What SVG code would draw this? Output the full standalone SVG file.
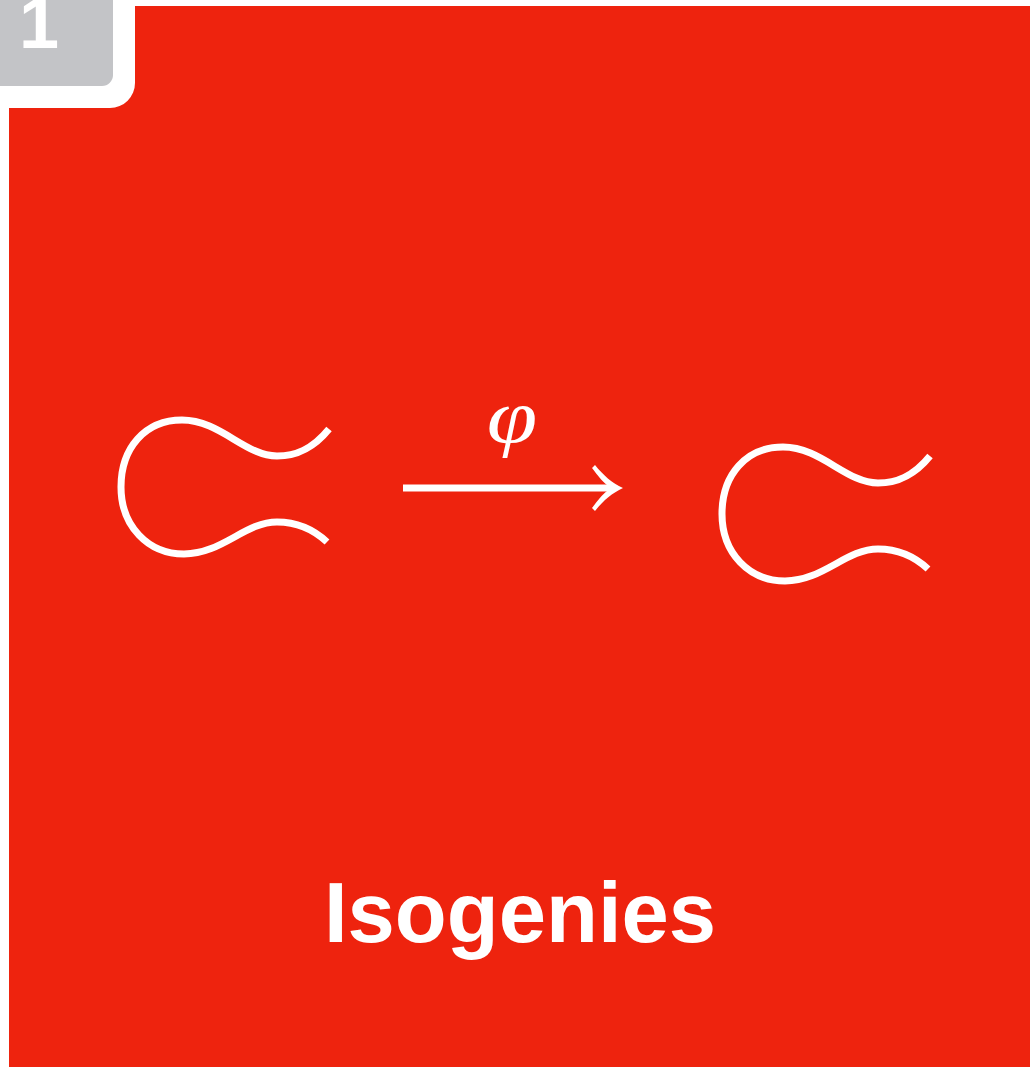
<svg xmlns="http://www.w3.org/2000/svg" width="1030" height="1068" viewBox="0 0 1030 1068">
<style>
.curve{fill:none;stroke:#fff;stroke-width:7}
</style>
<defs>
<path id="curveShape" d="M 329 429 C 312 450, 295 456, 277 456 C 245 456, 220 420, 182 420 C 145 420, 121 448, 121 487 C 121 526, 148 554, 184 554 C 222 554, 245 522, 277 522 C 295 522, 312 528, 327 542"/>
</defs>
<rect x="0" y="0" width="1030" height="1068" fill="#fff"/>
<rect x="9" y="6" width="1021" height="1061" fill="#EE230E"/>
<g id="badge">
<path d="M0 0 H135 V83 A25 25 0 0 1 110 108 H0 Z" fill="#fff"/>
<path d="M0 0 H113 V75 A11 11 0 0 1 102 86 H0 Z" fill="#C3C4C7"/>
<text x="39" y="48" font-family="Liberation Sans, Arial, sans-serif" font-weight="bold" font-size="72" fill="#fff" text-anchor="middle">1</text>
</g>
<g id="curve1">
<use href="#curveShape" class="curve"/>
</g>
<g id="curve2">
<use href="#curveShape" class="curve" transform="translate(601,27)"/>
</g>
<g id="connectors">
<line x1="403" y1="488" x2="612" y2="488" stroke="#fff" stroke-width="7"/>
<path d="M 595 465 C 603 475, 612 483, 623 488 C 612 493, 603 501, 595 511 L 592 508 C 598 500, 602 495, 607 491 L 607 485 C 602 481, 598 476, 592 468 Z" fill="#fff"/>
<text transform="translate(512,442) scale(1.2,1)" x="0" y="0" font-family="Liberation Serif, Times New Roman, serif" font-style="italic" font-size="76" fill="#fff" text-anchor="middle">φ</text>
</g>
<g id="title">
<text x="520" y="942" font-family="Liberation Sans, Arial, Helvetica, sans-serif" font-weight="bold" font-size="85" fill="#fff" text-anchor="middle">Isogenies</text>
</g>
</svg>
